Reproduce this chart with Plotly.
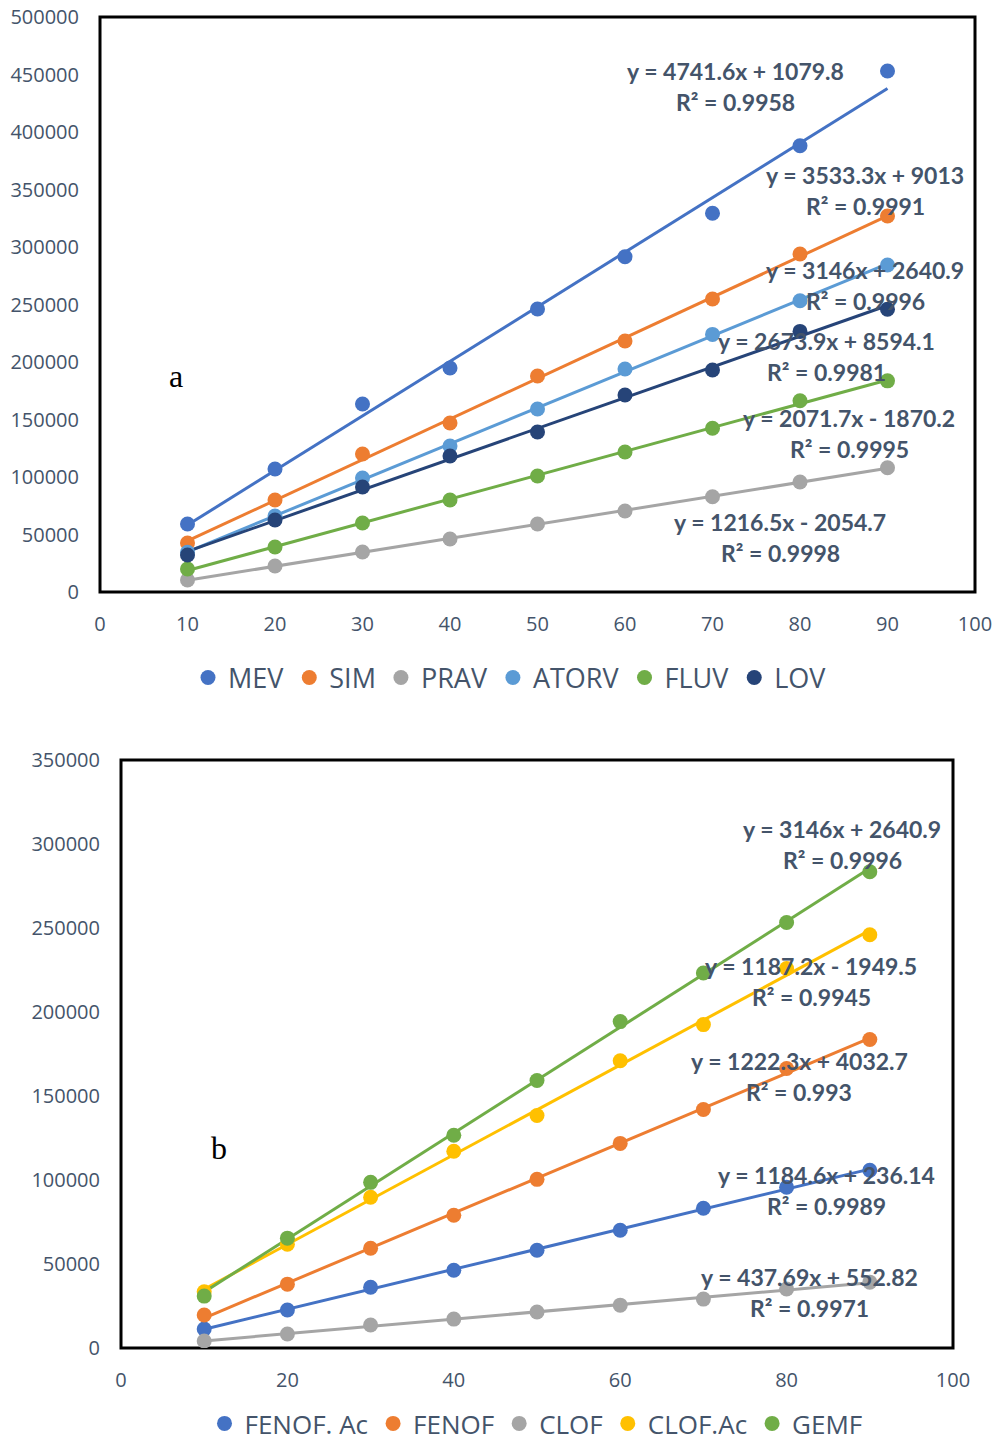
import numpy as np
import plotly.graph_objects as go

W, H = 995, 1447

# ---------------- data ----------------
x_conc = [10, 20, 30, 40, 50, 60, 70, 80, 90]

# panel a
a_names = ["MEV", "SIM", "PRAV", "ATORV", "FLUV", "LOV"]
mev = [59100, 107000, 163500, 194800, 246100, 291500, 329400, 388000, 453000]
sim = [42600, 80000, 120000, 147000, 187800, 218300, 254800, 293900, 327000]
prav = [10400, 22600, 34800, 46100, 59100, 70400, 82800, 95700, 108000]
atorv = [34500, 66100, 99100, 127000, 159100, 193900, 224000, 253200, 284400]
lov = [32200, 62600, 91300, 118300, 139100, 171300, 193000, 226600, 245900]
fluv = [20000, 39100, 60000, 80000, 100900, 121700, 142400, 166300, 183600]
a_values = [mev, sim, prav, atorv, fluv, lov]
a_colors = ["#4472C4", "#ED7D31", "#A5A5A5", "#5B9BD5", "#70AD47", "#264478"]
a_eq = ["y = 4741.6x + 1079.8", "y = 3533.3x + 9013", "y = 1216.5x - 2054.7",
        "y = 3146x + 2640.9", "y = 2071.7x - 1870.2", "y = 2673.9x + 8594.1"]
a_r2 = ["R² = 0.9958", "R² = 0.9991", "R² = 0.9998",
        "R² = 0.9996", "R² = 0.9995", "R² = 0.9981"]

# panel b
b_names = ["FENOF. Ac", "FENOF", "CLOF", "CLOF.Ac", "GEMF"]
fenof_ac = [11300, 22600, 36200, 46300, 58200, 70100, 83200, 95700, 105800]
fenof = [19600, 38000, 59400, 79000, 100400, 121800, 142000, 166400, 183600]
clof = [4200, 8300, 13700, 17200, 21400, 25500, 29100, 35100, 39200]
clof_ac = [33500, 61800, 89700, 117100, 138400, 171000, 192500, 225900, 246000]
gemf = [30900, 65400, 98600, 126600, 159200, 194300, 223200, 253300, 283500]
b_values = [fenof_ac, fenof, clof, clof_ac, gemf]
b_colors = ["#4472C4", "#ED7D31", "#A5A5A5", "#FFC000", "#70AD47"]
b_eq = ["y = 1184.6x + 236.14", "y = 1222.3x + 4032.7", "y = 437.69x + 552.82",
        "y = 1187.2x - 1949.5", "y = 3146x + 2640.9"]
b_r2 = ["R² = 0.9989", "R² = 0.993", "R² = 0.9971", "R² = 0.9945", "R² = 0.9996"]

# ---------------- layout helpers ----------------
def px_x(p):
    return p / W

def px_y(p):
    return 1 - p / H

TXT = "#44546A"

fig = go.Figure()

def add_panel(names, values, colors, xa, ya, legend):
    xs = np.array(x_conc, dtype=float)
    # trendlines first
    for nm, vals, col in zip(names, values, colors):
        k, b = np.polyfit(xs, np.array(vals, dtype=float), 1)
        xl = [xs.min(), xs.max()]
        fig.add_trace(go.Scatter(x=xl, y=[k * xl[0] + b, k * xl[1] + b], mode="lines",
                                 line=dict(color=col, width=3), showlegend=False,
                                 xaxis=xa, yaxis=ya, hoverinfo="skip"))
    for nm, vals, col in zip(names, values, colors):
        fig.add_trace(go.Scatter(x=x_conc, y=vals, mode="markers", name=nm,
                                 marker=dict(color=col, size=15),
                                 xaxis=xa, yaxis=ya, legend=legend))

add_panel(a_names, a_values, a_colors, "x", "y", "legend")
add_panel(b_names, b_values, b_colors, "x2", "y2", "legend2")

tickfont = dict(family="Open Sans", size=20, color=TXT)
axis_common = dict(showgrid=False, zeroline=False, showline=False, ticks="",
                   tickfont=tickfont, tickformat="d", automargin=False)

fig.update_layout(
    width=W, height=H,
    margin=dict(l=0, r=0, t=0, b=0, autoexpand=False),
    paper_bgcolor="white", plot_bgcolor="white",
    xaxis=dict(domain=[px_x(100), px_x(975)], range=[0, 100], dtick=10,
               anchor="y", ticklabelstandoff=18, **axis_common),
    yaxis=dict(domain=[px_y(592), px_y(17)], range=[0, 500000], dtick=50000,
               anchor="x", ticklabelstandoff=20, **axis_common),
    xaxis2=dict(domain=[px_x(121), px_x(953)], range=[0, 100], dtick=20,
                anchor="y2", ticklabelstandoff=18, **axis_common),
    yaxis2=dict(domain=[px_y(1348), px_y(760)], range=[0, 350000], dtick=50000,
                anchor="x2", ticklabelstandoff=20, **axis_common),
    legend=dict(orientation="h", x=px_x(510), xanchor="center", y=px_y(678),
                yanchor="middle", font=dict(family="Open Sans", size=27, color=TXT),
                bgcolor="rgba(0,0,0,0)"),
    legend2=dict(orientation="h", x=px_x(536), xanchor="center", y=0.0,
                 yanchor="bottom", font=dict(family="Open Sans", size=26, color=TXT),
                 bgcolor="rgba(0,0,0,0)"),
    showlegend=True,
)

# frames
for xr, yr in [("x domain", "y domain"), ("x2 domain", "y2 domain")]:
    fig.add_shape(type="rect", xref=xr, yref=yr, x0=0, x1=1, y0=0, y1=1,
                  line=dict(color="black", width=3), layer="below")

# equation labels (pixel centres of the two text lines)
a_pos = {"MEV": (735, 71), "SIM": (865, 175), "ATORV": (865, 270),
         "LOV": (826, 341), "FLUV": (849, 418), "PRAV": (780, 522)}
b_pos = {"GEMF": (842, 829), "CLOF.Ac": (811, 966), "FENOF": (799, 1061),
         "FENOF. Ac": (826, 1175), "CLOF": (809, 1277)}
efont = dict(family="Lato", size=23, color=TXT, weight="bold")
for names, eqs, r2s, pos in [(a_names, a_eq, a_r2, a_pos), (b_names, b_eq, b_r2, b_pos)]:
    for nm, eq, r2 in zip(names, eqs, r2s):
        cx, cy = pos[nm]
        fig.add_annotation(x=px_x(cx), y=px_y(cy), xref="paper", yref="paper",
                           text=eq, showarrow=False, font=efont,
                           xanchor="center", yanchor="middle")
        fig.add_annotation(x=px_x(cx), y=px_y(cy + 31), xref="paper", yref="paper",
                           text=r2, showarrow=False, font=efont,
                           xanchor="center", yanchor="middle")

# panel letters
fig.add_annotation(x=px_x(176), y=px_y(376), xref="paper", yref="paper", text="a",
                   showarrow=False, xanchor="center", yanchor="middle",
                   font=dict(family="Liberation Serif", size=32, color="black"))
fig.add_annotation(x=px_x(219), y=px_y(1148), xref="paper", yref="paper", text="b",
                   showarrow=False, xanchor="center", yanchor="middle",
                   font=dict(family="Liberation Serif", size=32, color="black"))

fig.write_html("out.html")
